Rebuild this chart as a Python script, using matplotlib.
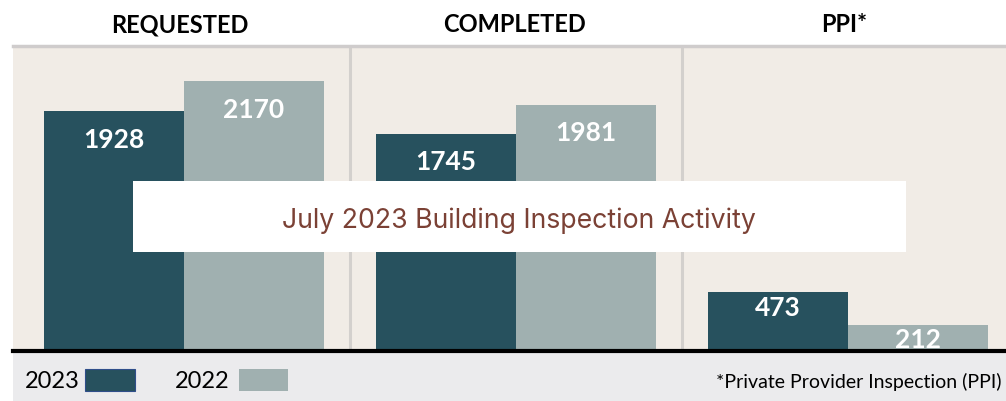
import matplotlib.pyplot as plt
from matplotlib.patches import Rectangle
from matplotlib.transforms import blended_transform_factory
import numpy as np

categories = ["REQUESTED", "COMPLETED", "PPI*"]
years = ["2023", "2022"]
values_2023 = [1928, 1745, 473]
values_2022 = [2170, 1981, 212]
title = "July 2023 Building Inspection Activity"
footnote = "*Private Provider Inspection (PPI)"

dark = "#27515e"
light = "#a0b0b0"
beige = "#f1ece6"
band = "#ebebed"
divider = "#d3d0cd"

plt.rcParams["font.family"] = ["Lato", "DejaVu Sans"]

W, H = 1006, 402
fig = plt.figure(figsize=(W / 100, H / 100), dpi=100)
fig.patch.set_facecolor("white")

# bottom band behind the legend
fig.add_artist(Rectangle((13 / W, 0), 1 - 13 / W, 48 / H, transform=fig.transFigure,
                         facecolor=band, edgecolor="none", zorder=0))

ax = fig.add_axes([13 / W, 50 / H, 993 / W, 305 / H])
ax.set_facecolor(beige)

x = np.arange(len(categories))
bw = 0.4217
b1 = ax.bar(x - bw / 2, values_2023, bw, color=dark, zorder=2)
b2 = ax.bar(x + bw / 2, values_2022, bw, color=light, zorder=2)

for bars in (b1, b2):
    for rect in bars:
        v = rect.get_height()
        off = -11 if v > 1000 else -2
        ax.annotate(f"{v:.0f}", (rect.get_x() + rect.get_width() / 2, v),
                    xytext=(0, off), textcoords="offset points",
                    ha="center", va="top", color="white",
                    fontsize=19, fontweight="bold", zorder=3)

for xd in (0.5, 1.5):
    ax.axvline(xd, color=divider, lw=2.2, zorder=1)

ax.set_xlim(-0.515, 2.476)
ax.set_ylim(0, 2455)
ax.set_xticks([])
ax.set_yticks([])
for s in ("left", "right"):
    ax.spines[s].set_visible(False)
ax.spines["top"].set_color("#cfcccc")
ax.spines["top"].set_linewidth(2.5)
ax.spines["bottom"].set_color("black")
ax.spines["bottom"].set_linewidth(3)

# category headers above the panels
hdr_trans = blended_transform_factory(ax.transData, fig.transFigure)
hdr_x = [-0.012, 0.995, 1.988]
for xi, c in zip(hdr_x, categories):
    ax.text(xi, 1 - 25 / H, c, transform=hdr_trans, ha="center", va="center",
            fontsize=17, fontweight="bold", color="black")

# title box
fig.add_artist(Rectangle((133 / W, 1 - 253 / H), 773 / W, 71 / H,
                         transform=fig.transFigure, facecolor="white",
                         edgecolor="none", zorder=5))
fig.text(519 / W, 1 - 221 / H, title, ha="center", va="center",
         fontsize=19.2, color="#7b4135", family=["Inter", "DejaVu Sans"], zorder=6)

# legend
ly = 1 - 382 / H
fig.text(25 / W, ly, years[0], ha="left", va="center", fontsize=17, color="black")
fig.add_artist(Rectangle((85 / W, 1 - 392 / H), 50 / W, 22 / H, transform=fig.transFigure,
                         facecolor=dark, edgecolor="#2f4e8a", lw=0.8))
fig.text(175 / W, ly, years[1], ha="left", va="center", fontsize=17, color="black")
fig.add_artist(Rectangle((239 / W, 1 - 392 / H), 49 / W, 22 / H, transform=fig.transFigure,
                         facecolor=light, edgecolor="none"))
fig.text(1001 / W, ly, footnote, ha="right", va="center", fontsize=14, color="black")

fig.savefig("out.png", dpi=100)
